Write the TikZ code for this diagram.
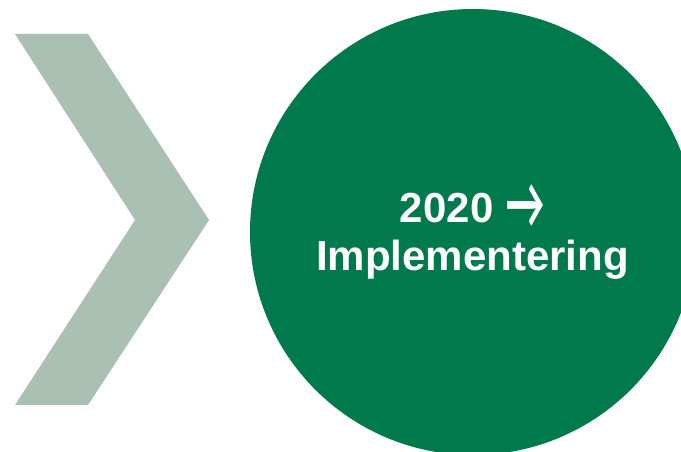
\documentclass[tikz,border=0pt]{standalone}
\usepackage{fontspec}
\setmainfont{Liberation Sans}
\newfontfamily\arrowfont{Lato}
\definecolor{chev}{HTML}{A9C0B2}
\definecolor{grn}{HTML}{007A4D}
\tikzset{
  chevstyle/.style={fill=chev, draw=none},
  circstyle/.style={fill=grn, draw=none},
  label/.style={text=white, font=\fontsize{42}{48}\selectfont\bfseries, align=center, inner sep=0pt}
}
\begin{document}
\begin{tikzpicture}[x=1pt,y=-1pt]
\useasboundingbox (0,0) rectangle (681,452);
\fill[white] (0,0) rectangle (681,452);
\begin{scope}
\clip (0,0) rectangle (681,452);
\fill[chevstyle] (15,34) -- (88,34) -- (209,220) -- (88,405) -- (15,405) -- (135,220) -- cycle;
\fill[circstyle] (473,232) circle[radius=223];
\end{scope}
\node[label] (t) at (472.5,236) {2020 {\arrowfont\smash{\raisebox{-6pt}{\scalebox{0.95}[1.7]{→}}}}\\Implementering};
\end{tikzpicture}
\end{document}
